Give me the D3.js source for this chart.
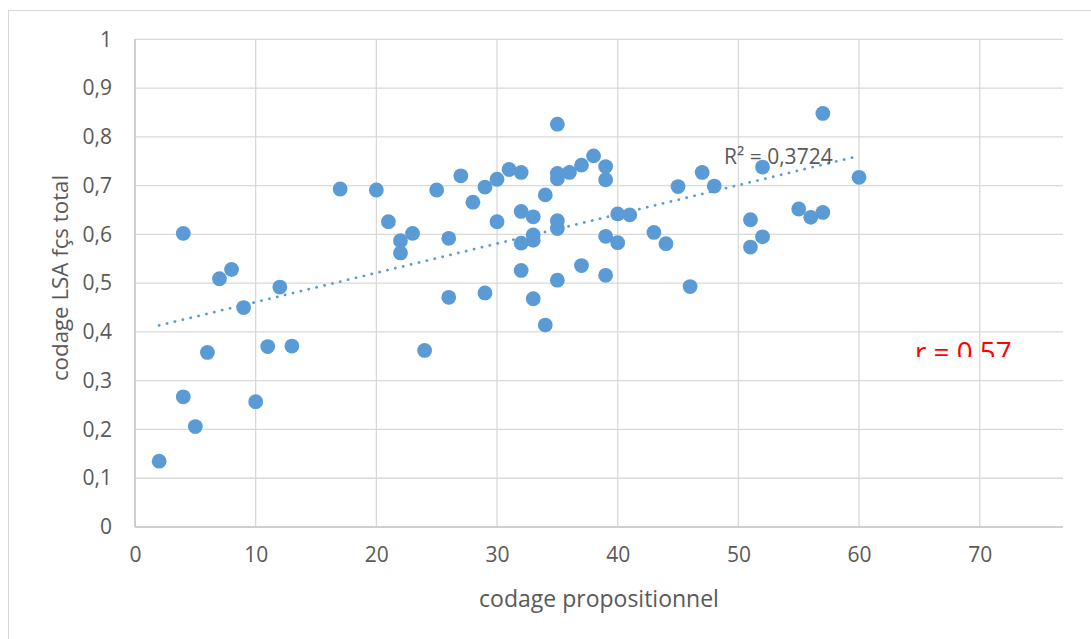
<!DOCTYPE html>
<html><head><meta charset="utf-8">
<script src="https://cdn.jsdelivr.net/npm/d3@7"></script>
<style>
html,body{margin:0;padding:0;background:#fff;}
svg{display:block;font-family:"Open Sans",sans-serif;}
</style></head>
<body>
<svg id="chart" width="1091" height="639"></svg>
<script>
const xValues = [2,4,4,5,6,7,8,9,10,11,12,13,17,20,21,22,22,23,24,25,26,26,27,28,29,29,30,30,31,32,32,32,32,33,33,33,33,34,34,35,35,35,35,35,35,36,37,37,38,39,39,39,39,40,40,41,43,44,45,46,47,48,51,51,52,52,55,56,57,57,60];
const yValues = [0.135,0.602,0.267,0.206,0.358,0.509,0.528,0.450,0.257,0.370,0.492,0.371,0.693,0.691,0.626,0.587,0.562,0.602,0.362,0.691,0.592,0.471,0.720,0.666,0.697,0.480,0.713,0.626,0.733,0.727,0.647,0.582,0.526,0.636,0.599,0.588,0.468,0.681,0.414,0.826,0.725,0.714,0.628,0.612,0.506,0.727,0.742,0.536,0.761,0.739,0.712,0.596,0.516,0.642,0.583,0.640,0.604,0.581,0.698,0.493,0.727,0.699,0.630,0.574,0.738,0.595,0.652,0.635,0.848,0.645,0.717];
const xTicks = [0,10,20,30,40,50,60,70];
const yTicks = [0,0.1,0.2,0.3,0.4,0.5,0.6,0.7,0.8,0.9,1];
const xTitle = "codage propositionnel";
const yTitle = "codage LSA fçs total";
const r2Label = "R² = 0,3724";
const rLabel = "r = 0,57";

(function(){
const svg = d3.select("#chart");
const pL = 135, pT = 39.3, pR = 1063, pB = 527;
const x = d3.scaleLinear().domain([0, 76.9]).range([pL, pR]);
const y = d3.scaleLinear().domain([0, 1]).range([pB, pT]);
const fr = d3.formatLocale({decimal:",", thousands:" ", grouping:[3], currency:["","€"]});
const fmt = fr.format(".1~f");

// outer chart border
svg.append("rect").attr("x",8.5).attr("y",10.5).attr("width",1200).attr("height",800)
  .attr("fill","#fff").attr("stroke","#d9d9d9").attr("stroke-width",1);

// gridlines
svg.append("g").selectAll("line").data(yTicks).join("line")
  .attr("x1",pL).attr("x2",pR).attr("y1",d=>y(d)).attr("y2",d=>y(d))
  .attr("stroke","#d9d9d9").attr("stroke-width",1.3);
svg.append("g").selectAll("line").data(xTicks).join("line")
  .attr("x1",d=>x(d)).attr("x2",d=>x(d)).attr("y1",pT).attr("y2",pB)
  .attr("stroke","#d9d9d9").attr("stroke-width",1.3);
// axis lines
svg.append("line").attr("x1",pL).attr("x2",pR).attr("y1",pB).attr("y2",pB)
  .attr("stroke","#c8c8c8").attr("stroke-width",1.6);
svg.append("line").attr("x1",pL).attr("x2",pL).attr("y1",pT).attr("y2",pB)
  .attr("stroke","#c8c8c8").attr("stroke-width",1.6);

// axes labels via d3 axes
const yAxis = svg.append("g").attr("transform",`translate(${pL},0)`)
  .call(d3.axisLeft(y).tickValues(yTicks).tickFormat(fmt).tickSize(0).tickPadding(23));
const xAxis = svg.append("g").attr("transform",`translate(0,${pB})`)
  .call(d3.axisBottom(x).tickValues(xTicks).tickFormat(fmt).tickSize(0).tickPadding(20));
[yAxis,xAxis].forEach(g=>{
  g.select(".domain").remove();
  g.selectAll("text").attr("font-family","Open Sans").attr("font-size",21).attr("fill","#595959");
});

// titles
svg.append("text").attr("x",599).attr("y",607).attr("text-anchor","middle")
  .attr("font-size",23).attr("fill","#595959").text(xTitle);
svg.append("text").attr("transform","translate(68,278) rotate(-90)").attr("text-anchor","middle")
  .attr("font-size",22.3).attr("fill","#595959").text(yTitle);

// trendline (least squares from data)
const mx = d3.mean(xValues), my = d3.mean(yValues);
const sxy = d3.sum(xValues.map((v,i)=>(v-mx)*(yValues[i]-my)));
const sxx = d3.sum(xValues.map(v=>(v-mx)*(v-mx)));
const slope = sxy/sxx, intercept = my - slope*mx;
const ext = d3.extent(xValues);
svg.append("path")
  .attr("d", d3.line().x(d=>x(d)).y(d=>y(intercept+slope*d))(ext))
  .attr("stroke","#5b9bd5").attr("stroke-width",2.8).attr("fill","none")
  .attr("stroke-linecap","round").attr("stroke-dasharray","0.1 8");

// points
svg.append("g").selectAll("circle").data(xValues.map((v,i)=>[v,yValues[i]])).join("circle")
  .attr("cx",d=>x(d[0])).attr("cy",d=>y(d[1])).attr("r",7.4)
  .attr("fill","#5b9bd5");

// R² label
svg.append("text").attr("x",724).attr("y",164).attr("font-size",21).attr("fill","#595959").text(r2Label);

// r label clipped
svg.append("clipPath").attr("id","rclip").append("rect").attr("x",880).attr("y",300).attr("width",200).attr("height",57);
svg.append("text").attr("x",915).attr("y",362).attr("font-size",27.8).attr("fill","#ff0000")
  .attr("clip-path","url(#rclip)").text(rLabel);
})();
</script>
</body></html>
